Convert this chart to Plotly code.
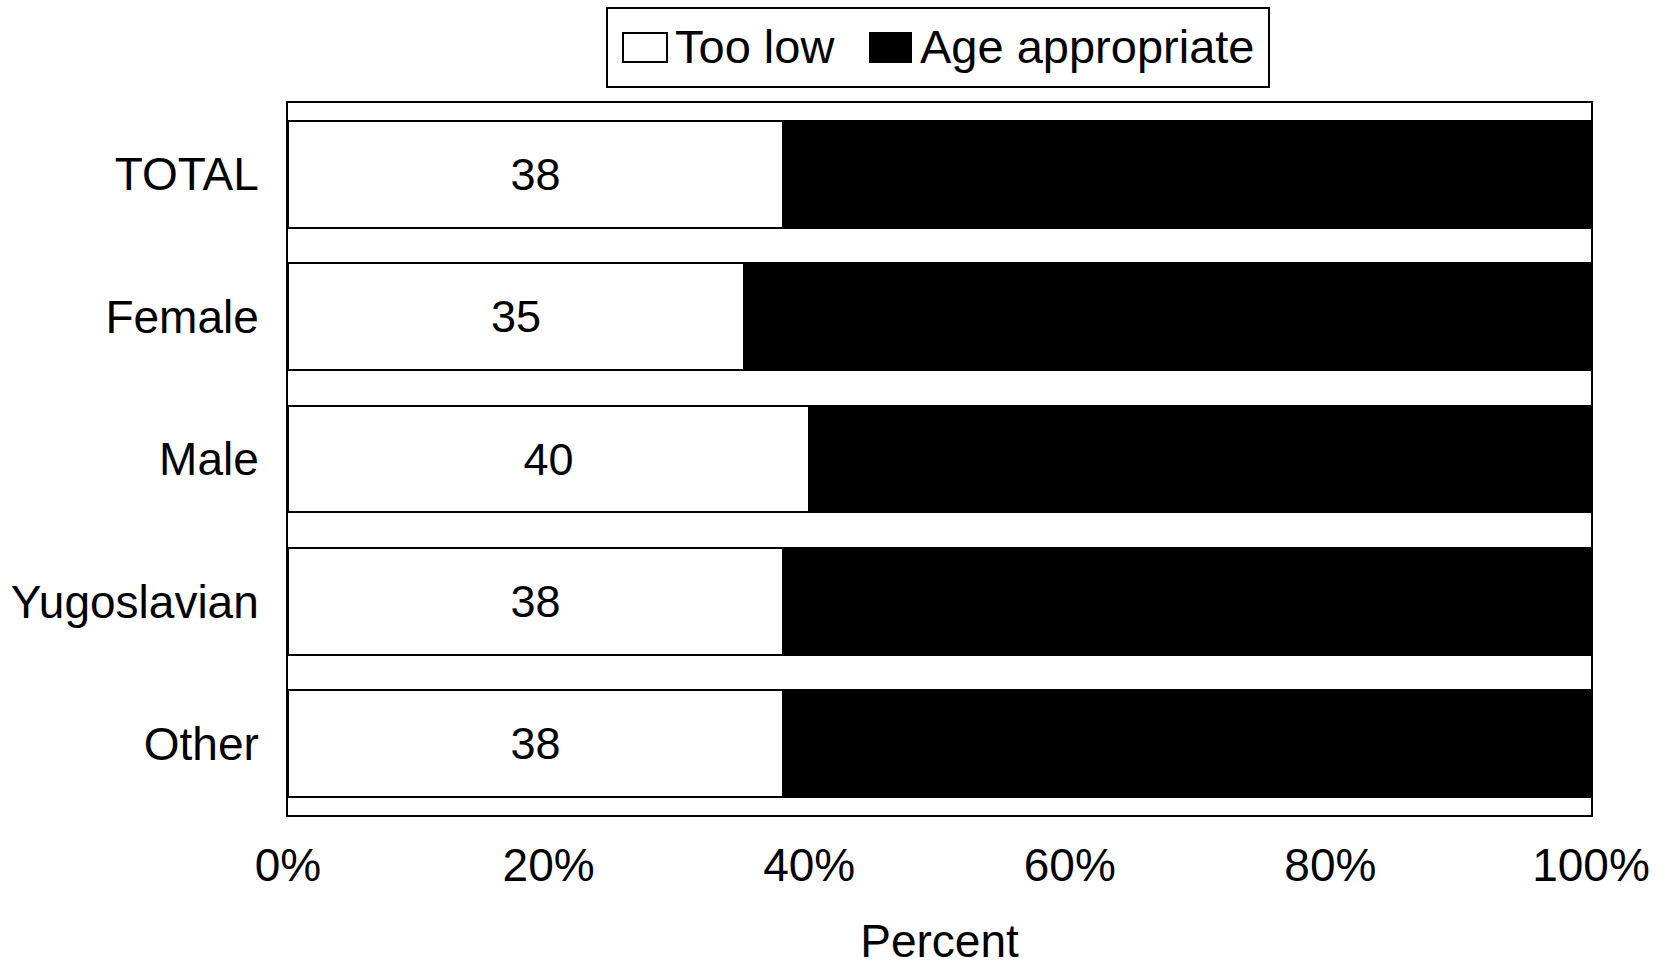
import plotly.graph_objects as go

# Share of respondents by group, in percent
groups = ["TOTAL", "Female", "Male", "Yugoslavian", "Other"]
too_low = [38, 35, 40, 38, 38]
age_appropriate = [62, 65, 60, 62, 62]
x_tick_vals = [0, 20, 40, 60, 80, 100]
x_tick_text = ["0%", "20%", "40%", "60%", "80%", "100%"]
series_names = ["Too low", "Age appropriate"]
series_colors = ["white", "black"]

FONT = "Liberation Sans, Arial, Helvetica, sans-serif"

W, H = 1666, 967
M_L, M_R, M_T, M_B = 288, 75, 103, 152
PLOT_W = W - M_L - M_R
PLOT_H = H - M_T - M_B


def px_to_paper(px, py):
    """Convert page pixel coordinates into paper coordinates."""
    return (px - M_L) / PLOT_W, (H - M_B - py) / PLOT_H


fig = go.Figure()

fig.add_trace(go.Bar(
    name=series_names[0],
    y=groups,
    x=too_low,
    orientation="h",
    marker=dict(color=series_colors[0], line=dict(color="black", width=2)),
    text=[str(v) for v in too_low],
    textposition="inside",
    insidetextanchor="middle",
    textangle=0,
    textfont=dict(family=FONT, size=45, color="black"),
    hoverinfo="skip",
    showlegend=False,
))

fig.add_trace(go.Bar(
    name=series_names[1],
    y=groups,
    x=age_appropriate,
    orientation="h",
    marker=dict(color=series_colors[1], line=dict(color="black", width=2)),
    hoverinfo="skip",
    showlegend=False,
))

# Boxed legend above the plot, with large swatches
shapes = []
annotations = []

bx0, by0 = px_to_paper(607, 87)
bx1, by1 = px_to_paper(1269, 8)
shapes.append(dict(type="rect", xref="paper", yref="paper",
                   x0=bx0, y0=by0, x1=bx1, y1=by1,
                   line=dict(color="black", width=2), fillcolor="white",
                   layer="above"))

legend_items = [
    # swatch left, swatch right, text start
    (623, 667, 673),
    (870, 911, 918),
]
for (sx0, sx1, tx), name, color in zip(legend_items, series_names, series_colors):
    px0, py0 = px_to_paper(sx0, 62)
    px1, py1 = px_to_paper(sx1, 33)
    shapes.append(dict(type="rect", xref="paper", yref="paper",
                       x0=px0, y0=py0, x1=px1, y1=py1,
                       line=dict(color="black", width=2), fillcolor=color,
                       layer="above"))
    ax, ay = px_to_paper(tx, 46)
    annotations.append(dict(text=name, xref="paper", yref="paper",
                            x=ax, y=ay, xanchor="left", yanchor="middle",
                            showarrow=False,
                            font=dict(family=FONT, size=47, color="black")))

fig.update_layout(
    width=W,
    height=H,
    barmode="stack",
    bargap=0.25,
    paper_bgcolor="white",
    plot_bgcolor="white",
    font=dict(family=FONT, size=46, color="black"),
    margin=dict(l=M_L, r=M_R, t=M_T, b=M_B, autoexpand=False),
    showlegend=False,
    shapes=shapes,
    annotations=annotations,
    xaxis=dict(
        range=[0, 100],
        tickvals=x_tick_vals,
        ticktext=x_tick_text,
        showgrid=False,
        zeroline=False,
        showline=True,
        linecolor="black",
        linewidth=2,
        mirror=True,
        ticks="",
        ticklabelstandoff=9,
        automargin=False,
        tickfont=dict(family=FONT, size=46),
        title=dict(text="Percent", font=dict(family=FONT, size=46), standoff=38),
        fixedrange=True,
    ),
    yaxis=dict(
        categoryorder="array",
        categoryarray=groups,
        autorange="reversed",
        showgrid=False,
        zeroline=False,
        showline=True,
        linecolor="black",
        linewidth=2,
        mirror=True,
        ticks="",
        ticklabelstandoff=18,
        automargin=False,
        tickfont=dict(family=FONT, size=46),
        fixedrange=True,
    ),
)

fig.write_html("out.html", config={"displayModeBar": False})
